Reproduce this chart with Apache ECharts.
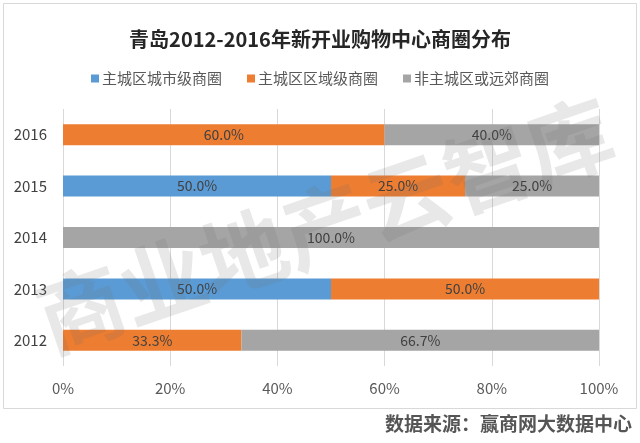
<!DOCTYPE html>
<html><head><meta charset="utf-8">
<script src="https://cdn.jsdelivr.net/npm/echarts@6/dist/echarts.min.js"></script>
<style>html,body{margin:0;padding:0;background:#fff}#c{width:640px;height:443px}</style>
</head><body><div id="c"></div>
<script>
var years = ['2012', '2013', '2014', '2015', '2016'];
var cityLevel = [0, 50, 0, 50, 0];          // 主城区城市级商圈
var districtLevel = [33.3, 50, 0, 25, 60];  // 主城区区域级商圈
var suburban = [66.7, 0, 100, 25, 40];      // 非主城区或远郊商圈
var seriesNames = ['主城区城市级商圈', '主城区区域级商圈', '非主城区或远郊商圈'];
var xTicks = [0, 20, 40, 60, 80, 100];

var FONT = '"Noto Sans CJK SC", "Noto Sans", sans-serif';
var colors = ['#5B9BD5', '#ED7D31', '#A5A5A5'];
function mk(name, data, color) {
  return {
    name: name, type: 'bar', stack: 'all', data: data, barWidth: 21,
    itemStyle: { color: color },
    label: {
      show: true, position: 'inside', color: '#404040', fontSize: 14, fontFamily: FONT,
      formatter: function (p) { return p.value > 0 ? p.value.toFixed(1) + '%' : ''; }
    }
  };
}
var chart = echarts.init(document.getElementById('c'), null, { renderer: 'canvas' });
chart.setOption({
  animation: false,
  backgroundColor: '#fff',
  color: colors,
  title: {
    text: '青岛2012-2016年新开业购物中心商圈分布', left: 'center', top: 24,
    textStyle: { fontSize: 20, fontWeight: 'bold', color: '#262626', fontFamily: FONT }
  },
  legend: {
    top: 66, left: 'center', itemWidth: 8, itemHeight: 8, itemGap: 25,
    icon: 'rect',
    textStyle: { fontSize: 15, color: '#595959', fontFamily: FONT, padding: [0, 0, 0, -2] },
    data: seriesNames
  },
  grid: { left: 63, right: 41, top: 109, bottom: 77, containLabel: false },
  xAxis: {
    type: 'value', min: xTicks[0], max: xTicks[xTicks.length - 1], interval: 20,
    axisLine: { show: false }, axisTick: { show: false },
    splitLine: { show: true, lineStyle: { color: '#D9D9D9', width: 1 } },
    axisLabel: { formatter: '{value}%', fontSize: 15, color: '#595959', fontFamily: FONT, margin: 15 }
  },
  yAxis: {
    type: 'category', data: years,
    axisLine: { show: false }, axisTick: { show: false },
    axisLabel: { fontSize: 15, color: '#404040', fontFamily: FONT, margin: 16 }
  },
  series: [
    mk(seriesNames[0], cityLevel, colors[0]),
    mk(seriesNames[1], districtLevel, colors[1]),
    mk(seriesNames[2], suburban, colors[2])
  ],
  graphic: [
    { type: 'rect', left: 3, top: 3, z: -10, silent: true,
      shape: { width: 633, height: 405 },
      style: { fill: '#fff', stroke: '#D9D9D9', lineWidth: 1 } },
    { type: 'text', x: 325, y: 225, rotation: 0.33, z: 100, silent: true,
      style: { text: '商业地产云智库', font: 'bold 86px "Noto Sans CJK SC", serif',
        fill: 'rgba(110,110,110,0.16)', align: 'center', verticalAlign: 'middle' } },
    { type: 'text', right: 8, top: 414, z: 100, silent: true,
      style: { text: '数据来源：赢商网大数据中心', font: 'bold 19px "Noto Sans CJK SC", serif',
        fill: '#555555' } }
  ]
});
</script></body></html>
